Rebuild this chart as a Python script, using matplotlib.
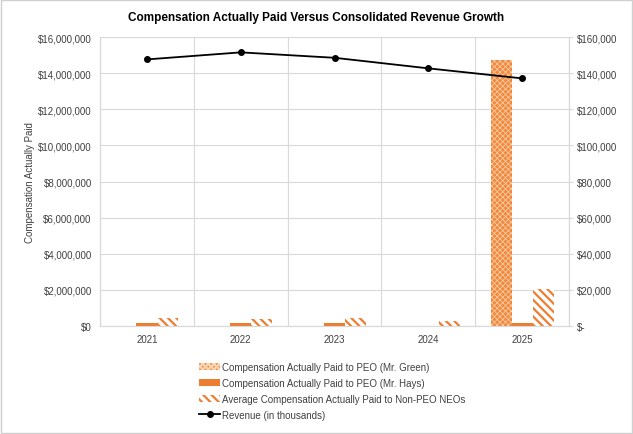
import matplotlib
matplotlib.use("Agg")
import matplotlib.pyplot as plt
import matplotlib.ticker as mticker
from matplotlib.patches import Rectangle
import numpy as np

plt.rcParams['font.family'] = ['Liberation Sans', 'DejaVu Sans']

years = ["2021", "2022", "2023", "2024", "2025"]
cap_green = [0, 0, 0, 0, 14740000]
cap_hays = [180000, 170000, 180000, 0, 180000]
cap_non_peo = [430000, 400000, 430000, 280000, 2050000]
revenue = [147600, 151500, 148500, 142650, 137100]

orange = '#ED7D31'
grid_c = '#D9D9D9'
txt_c = '#404040'

fig = plt.figure(figsize=(6.33, 4.35), dpi=100)
fig.patches.append(Rectangle((0.002, 0.002), 0.996, 0.996, transform=fig.transFigure,
                             fill=False, edgecolor='#D0D0D0', linewidth=1))
ax = fig.add_axes([0.158, 0.2483, 0.741, 0.6643])
ax2 = ax.twinx()

x = np.arange(len(years))
w = 0.224
plt.rcParams['hatch.linewidth'] = 0.5
ax.bar(x - w, cap_green, w, facecolor='#F08A3E', edgecolor='#FBD3B0', hatch='xxxxxx',
       linewidth=0, label='Compensation Actually Paid to PEO (Mr. Green)', zorder=3)
ax.bar(x, cap_hays, w, color=orange, linewidth=0,
       label='Compensation Actually Paid to PEO (Mr. Hays)', zorder=3)
plt.rcParams['hatch.linewidth'] = 1.6
ax.bar(x + w, cap_non_peo, w, facecolor='white', edgecolor=orange, hatch='\\\\\\\\',
       linewidth=0, label='Average Compensation Actually Paid to Non-PEO NEOs', zorder=3)

ax2.plot(x, revenue, color='black', marker='o', markersize=4, linewidth=1.3,
         label='Revenue (in thousands)', zorder=4)

ax.set_xlim(-0.5, 4.5)
ax.set_ylim(0, 16000000)
ax2.set_ylim(0, 160000)
ax.set_yticks(np.arange(0, 16000001, 2000000))
ax2.set_yticks(np.arange(0, 160001, 20000))
ax.yaxis.set_major_formatter(mticker.FuncFormatter(lambda v, p: f"${v:,.0f}"))
ax2.yaxis.set_major_formatter(mticker.FuncFormatter(lambda v, p: "$-" if v == 0 else f"${v:,.0f}"))

ax.set_xticks(x)
ax.set_xticklabels(years)
ax.set_xticks(np.arange(-0.5, 5, 1), minor=True)
ax.tick_params(axis='x', which='both', length=0, labelsize=7, colors=txt_c, pad=6)
ax.tick_params(axis='y', length=0, labelsize=7, colors=txt_c, pad=6)
ax2.tick_params(axis='y', length=3, color=grid_c, labelsize=7, colors=txt_c, pad=3)
ax.grid(axis='y', which='major', color=grid_c, linewidth=0.8, zorder=0)
ax.grid(axis='x', which='minor', color=grid_c, linewidth=0.8, zorder=0)
ax.set_axisbelow(True)

for a in (ax, ax2):
    for s in a.spines.values():
        s.set_color(grid_c)
        s.set_linewidth(0.8)
    a.spines['top'].set_visible(False)

ax.set_ylabel('Compensation Actually Paid', fontsize=7, color=txt_c, labelpad=2)
fig.text(0.5, 0.958, 'Compensation Actually Paid Versus Consolidated Revenue Growth',
         ha='center', va='center', fontsize=8.5, fontweight='bold', color='black')

h1, l1 = ax.get_legend_handles_labels()
h2, l2 = ax2.get_legend_handles_labels()
leg = fig.legend(h1 + h2, l1 + l2, loc='upper left', bbox_to_anchor=(0.308, 0.175),
                 frameon=False, fontsize=7, handlelength=2.2, handletextpad=0.15,
                 labelspacing=0.62, borderaxespad=0, labelcolor=txt_c)

fig.savefig('out.png', dpi=100)
